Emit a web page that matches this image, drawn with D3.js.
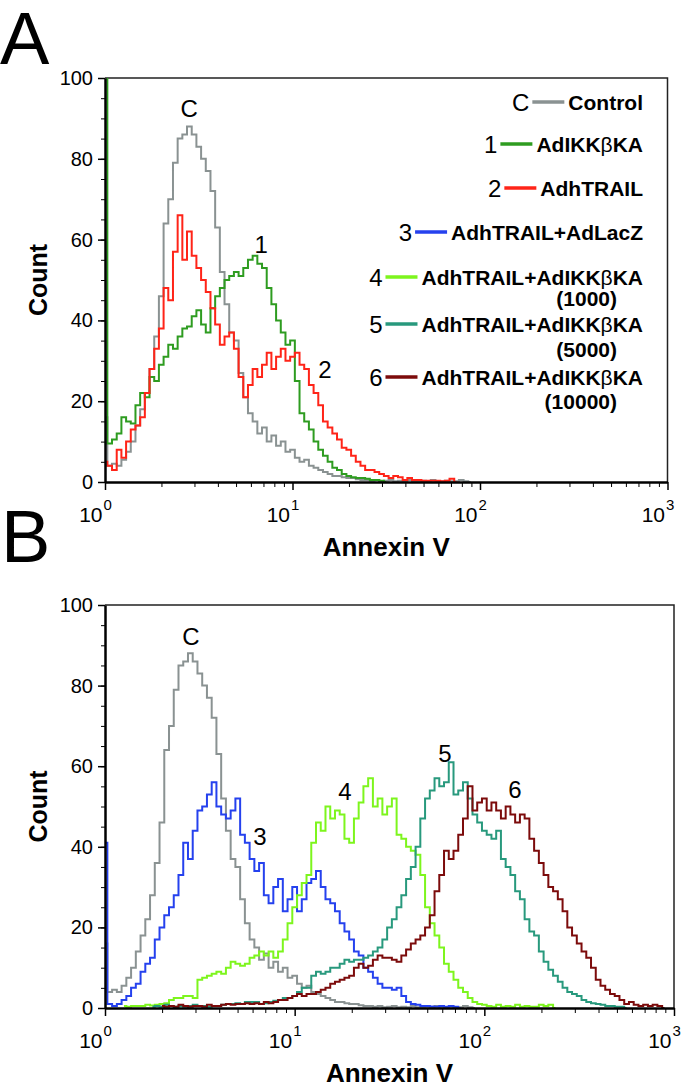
<!DOCTYPE html>
<html>
<head>
<meta charset="utf-8">
<script src="https://cdn.jsdelivr.net/npm/d3@7"></script>
<style>
  body { margin: 0; background: #fff; }
  text { font-family: "Liberation Sans", Arial, Helvetica, sans-serif; }
</style>
</head>
<body>
<svg id="fig" width="685" height="1087"></svg>
<script>
// histogram bins are log10 steps of Annexin V intensity, starting at 10^0
var binStep = 0.025;

// counts per bin (first value sits at bin index given by *Start)
var controlStart = 0;
var control = [16, 4, 4.5, 4, 5.5, 7.5, 10, 14, 18, 22,
    28, 36, 46, 64, 70, 79, 85, 86, 88, 86,
    83, 80, 77, 72, 63, 52, 44, 37, 35, 27,
    21, 17, 15, 12, 13.5, 10, 11.5, 9, 10, 7.5,
    8, 6, 5, 5.5, 4, 3.5, 3, 2.5, 2, 1.5,
    1.5, 1.2, 1, 1, 0.7, 0.5, 0.5, 0.3, 0.5, 0.2,
    0.3, 0.5, 0.2, 0.3, 0.2, 0.5, 0.2, 0.2, 0.3, 0.2,
    0.5, 0.2, 0.2, 0.3, 0.2, 0.2, 0.5, 0.2, 0];

var ikkStart = 0;
var ikk = [140, 9.5, 10.5, 12, 16, 15, 14.5, 19, 22, 21,
    26, 25, 29, 31, 34, 33, 36, 38, 38.5, 41,
    42.5, 39, 37, 43, 46, 48, 50, 51, 52, 51,
    53, 55, 56, 54, 53, 48, 44, 40, 37, 34,
    35, 25, 17, 15, 13, 10, 8, 6.5, 5, 3.5,
    3, 2, 1.5, 1.2, 1, 1, 0.8, 0.5, 0.5, 0.3, 0];

var trailStart = 0;
var trail = [5, 4, 3, 8, 6, 10, 13, 14, 16, 22,
    28, 33, 38, 48, 45, 57, 66, 55, 62, 56,
    53, 50, 47, 43, 39, 34, 36, 37, 33, 26,
    21, 24, 28, 26, 29, 32, 28, 31, 33, 30,
    31, 32, 29, 28, 24, 22, 19, 15, 13.5, 12,
    10.5, 8.5, 8, 6.5, 5, 4, 3, 3, 2.5, 2,
    1.5, 1, 1.5, 1.2, 0.5, 1, 0.5, 0.5, 0.3, 0.3,
    0.3, 0.3, 0.2, 0.3, 0.8, 0];

var lacZStart = 0;
var lacZ = [41, 1, 0.5, 1, 2, 3, 5, 6, 9, 11,
    12.5, 17, 20, 23, 25, 28, 33, 41, 37, 44,
    49, 50, 53, 56, 50, 48, 47, 49, 52, 43,
    41, 37, 34, 36, 28, 26, 30, 32, 24, 27,
    30, 24, 27, 31, 32, 34, 30, 27, 26, 24,
    21, 19, 17, 14, 13, 10, 9, 7.5, 6, 5,
    5, 4.5, 5, 3, 1.5, 1, 0.8, 0.5, 0.5, 0.4,
    0.3, 0.5, 0.3, 0.5, 0.3, 0];

var ikk1000Start = 4;
var ikk1000 = [0.5, 0.3, 0.5, 0.5, 0.5, 0.8,
    0.6, 0.8, 1, 1.2, 2, 2.5, 2.5, 3, 3, 2.5,
    7, 7.5, 8, 8.5, 9, 8.5, 10, 11.5, 11, 10.5,
    11, 12.5, 13, 14, 13, 14, 12.5, 14, 17, 21,
    25, 28, 31, 33, 41, 46, 44, 50, 47, 49,
    48, 42, 41, 47, 51, 55, 57, 50, 52, 48,
    50, 52, 43, 42, 40, 39, 38, 33, 25, 21,
    18, 15, 11, 9, 7, 5, 4, 2.5, 1.5, 1,
    0.8, 0.5, 0.3, 0.8, 0.3, 0.5, 0.3, 0.8, 0.3, 0.5,
    0.3, 0.3, 0.8, 0.5, 0.8, 0];

var ikk5000Start = 10;
var ikk5000 = [0.3, 0.5, 0.3, 0.8, 0.5, 0.3, 0.5, 0.3, 0.5, 0.8,
    0.5, 0.5, 0.3, 0.5, 0.5, 0.8, 1, 1, 1.2, 1,
    1.5, 1.5, 1.5, 1, 1.2, 1.5, 1.8, 2, 2.5, 2.5,
    3, 4, 5, 5, 8, 9, 8.5, 9, 10, 10,
    11, 12, 11.5, 12, 12, 12.5, 13, 14, 15, 17,
    20, 22, 25, 28, 32, 35, 40, 47, 52, 54,
    57, 55, 56, 61, 53, 54, 56, 52, 48, 46,
    44, 43, 42, 44, 37, 35, 33, 29, 27, 22,
    19, 18, 14, 11.5, 9.5, 8, 6.5, 5, 4, 3.5,
    3, 2, 1.5, 1.2, 1, 0.8, 0.5, 0.5, 0.3, 0.3, 0];

var ikk10000Start = 12;
var ikk10000 = [0.5, 0.3, 0.5, 0.3, 0.8, 0.5, 0.3, 0.5, 0.5, 0.3,
    0.8, 0.5, 0.5, 0.8, 1, 0.8, 1, 1, 1.2, 1,
    1.2, 1, 1.5, 1.2, 1.5, 2, 2, 2.5, 3, 3.5,
    3, 3.5, 3.5, 4, 4.5, 5, 6, 6.5, 7, 7.5,
    8, 10, 11, 10, 10.5, 12, 13, 12.5, 12.5, 12,
    11.5, 13, 14.5, 16, 17, 18, 20, 23, 29, 33,
    39, 37, 39, 43, 47, 55, 49, 51, 52, 49,
    51, 49, 47, 50, 48, 46, 48, 47, 42, 39,
    36, 33, 30, 29, 27, 24, 20, 18, 16, 14,
    12.5, 10, 7, 5.5, 4.5, 3.5, 3, 2, 1, 1.5,
    0.8, 0.5, 0.8, 0.5, 0.8, 0.5, 0];

// legend entries: marker, name, dose
var legendNums = ["C", "1", "2", "3", "4", "5", "6"];
var legendNames = ["Control", "AdIKK\u03b2KA", "AdhTRAIL", "AdhTRAIL+AdLacZ",
    "AdhTRAIL+AdIKK\u03b2KA", "AdhTRAIL+AdIKK\u03b2KA", "AdhTRAIL+AdIKK\u03b2KA"];
var legendDoses = ["", "", "", "", "(1000)", "(5000)", "(10000)"];

// curve labels [marker, Annexin V, count]
var labelsA = [["C", 2.81, 90.3], ["1", 6.8, 56.7], ["2", 14.9, 25.7]];
var labelsB = [["C", 2.84, 90.1], ["3", 6.56, 40.4], ["4", 18.4, 51.6], ["5", 62, 61], ["6", 145, 52.1]];

var yTicks = [0, 20, 40, 60, 80, 100];
var xTicks = [1, 10, 100, 1000];
var xTickExp = ["0", "1", "2", "3"];

var colors = {
    control: "#8a9292", ikk: "#2e9c20", trail: "#ff2418", lacZ: "#2541ee",
    ikk1000: "#7df51d", ikk5000: "#28997d", ikk10000: "#7c0b0b"
};
var legendColors = [colors.control, colors.ikk, colors.trail, colors.lacZ,
    colors.ikk1000, colors.ikk5000, colors.ikk10000];

function series(start, vals, color) {
    return { color: color, points: vals.map(function(v, i) {
        return [Math.pow(10, (start + i) * binStep), v];
    }) };
}

var svg = d3.select("#fig");

function panel(id, box, curves, labels) {
    var x = d3.scaleLog().domain([1, 1000]).range([box.left, box.right]);
    var y = d3.scaleLinear().domain([0, 100]).range([box.bottom, box.top]);
    var g = svg.append("g");

    g.append("clipPath").attr("id", "clip" + id).append("rect")
        .attr("x", box.left - 3).attr("y", box.top)
        .attr("width", box.right - box.left + 3).attr("height", box.bottom - box.top);

    // frame top and right
    g.append("path")
        .attr("d", "M" + box.left + "," + box.top + "H" + box.right + "V" + box.bottom)
        .attr("fill", "none").attr("stroke", "#222").attr("stroke-width", 1.5);

    var line = d3.line()
        .x(function(d) { return x(d[0]); })
        .y(function(d) { return y(Math.min(d[1], 104)); })
        .curve(d3.curveStep);

    g.append("g").attr("clip-path", "url(#clip" + id + ")")
        .selectAll("path").data(curves).enter().append("path")
        .attr("d", function(d) { return line(d.points); })
        .attr("fill", "none")
        .attr("stroke", function(d) { return d.color; })
        .attr("stroke-width", 2)
        .attr("stroke-linejoin", "miter");

    // y minor ticks every 5
    g.append("g").attr("transform", "translate(" + box.left + ",0)")
        .call(d3.axisLeft(y).tickValues(d3.range(0, 101, 5)).tickSize(4).tickFormat(""))
        .call(function(s) { s.select(".domain").remove(); s.selectAll("line").attr("stroke-width", 1); });

    var yAxis = g.append("g").attr("transform", "translate(" + box.left + ",0)")
        .call(d3.axisLeft(y).tickValues(yTicks).tickSize(7).tickSizeOuter(0).tickPadding(5));
    yAxis.select(".domain").attr("stroke-width", 2.5);
    yAxis.selectAll("line").attr("stroke-width", 1.5);
    yAxis.selectAll("text").attr("font-size", 20).attr("font-family", null);

    // x minor ticks 2..9 per decade
    var minor = [];
    [1, 10, 100].forEach(function(d) {
        for (var k = 2; k < 10; k++) minor.push(d * k);
    });
    g.append("g").attr("transform", "translate(0," + box.bottom + ")")
        .call(d3.axisBottom(x).tickValues(minor).tickSize(5).tickFormat(""))
        .call(function(s) { s.select(".domain").remove(); s.selectAll("line").attr("stroke-width", 1); });

    var xAxis = g.append("g").attr("transform", "translate(0," + box.bottom + ")")
        .call(d3.axisBottom(x).tickValues(xTicks).tickSize(8).tickSizeOuter(0).tickFormat(""));
    xAxis.select(".domain").attr("stroke-width", 2.5);
    xAxis.selectAll("line").attr("stroke-width", 1.5);

    // 10^n labels
    xAxis.selectAll(".tick").each(function(d, i) {
        var t = d3.select(this);
        t.append("text").attr("x", -3).attr("y", 40).attr("text-anchor", "end")
            .attr("fill", "#000").attr("font-size", 21).attr("font-family", null).text("10");
        t.append("text").attr("x", -2).attr("y", 28).attr("text-anchor", "start")
            .attr("fill", "#000").attr("font-size", 15).attr("font-family", null).text(xTickExp[i]);
    });

    g.append("text")
        .attr("transform", "translate(47," + (box.top + box.bottom) / 2 + ") rotate(-90)")
        .attr("text-anchor", "middle").attr("font-size", 25).attr("font-weight", "bold")
        .text("Count");

    g.append("text")
        .attr("x", (box.left + box.right) / 2).attr("y", box.bottom + 74)
        .attr("text-anchor", "middle").attr("font-size", 26).attr("font-weight", "bold")
        .text("Annexin V");

    g.selectAll(".curve-label").data(labels).enter().append("text")
        .attr("class", "curve-label")
        .attr("x", function(d) { return x(d[1]); })
        .attr("y", function(d) { return y(d[2]); })
        .attr("text-anchor", "middle").attr("font-size", 24)
        .text(function(d) { return d[0]; });
}

panel("A", { left: 105, right: 667.5, top: 78, bottom: 482 }, [
    series(controlStart, control, colors.control),
    series(ikkStart, ikk, colors.ikk),
    series(trailStart, trail, colors.trail)
], labelsA);

panel("B", { left: 105, right: 674, top: 605, bottom: 1008 }, [
    series(controlStart, control, colors.control),
    series(lacZStart, lacZ, colors.lacZ),
    series(ikk1000Start, ikk1000, colors.ikk1000),
    series(ikk5000Start, ikk5000, colors.ikk5000),
    series(ikk10000Start, ikk10000, colors.ikk10000)
], labelsB);

// panel letters
svg.append("text").attr("x", 0).attr("y", 64).attr("font-size", 74).text("A");
svg.append("text").attr("x", 1).attr("y", 562).attr("font-size", 74).text("B");

// legend inside panel A, right aligned
var rowY = [110, 152, 196, 240, 285, 332, 385];
var doseY = [0, 0, 0, 0, 306, 357, 409];
var legend = svg.append("g");
legendNames.forEach(function(name, i) {
    var txt = legend.append("text").attr("x", 643).attr("y", rowY[i])
        .attr("text-anchor", "end").attr("font-size", 21).attr("font-weight", "bold");
    // beta drawn in regular weight like the symbol font
    name.split(/(\u03b2)/).forEach(function(part) {
        if (!part) return;
        txt.append("tspan").attr("font-weight", part === "\u03b2" ? "normal" : "bold").text(part);
    });
    var start = 643 - txt.node().getComputedTextLength();
    var x1 = start - 4, x0 = x1 - 32;
    legend.append("line").attr("x1", x0).attr("x2", x1)
        .attr("y1", rowY[i] - 8).attr("y2", rowY[i] - 8)
        .attr("stroke", legendColors[i]).attr("stroke-width", 3.5);
    legend.append("text").attr("x", x0 - 3).attr("y", rowY[i] + 1)
        .attr("text-anchor", "end").attr("font-size", 24).text(legendNums[i]);
    if (legendDoses[i]) {
        legend.append("text").attr("x", 617).attr("y", doseY[i])
            .attr("text-anchor", "end").attr("font-size", 21).attr("font-weight", "bold")
            .text(legendDoses[i]);
    }
});
</script>
</body>
</html>
